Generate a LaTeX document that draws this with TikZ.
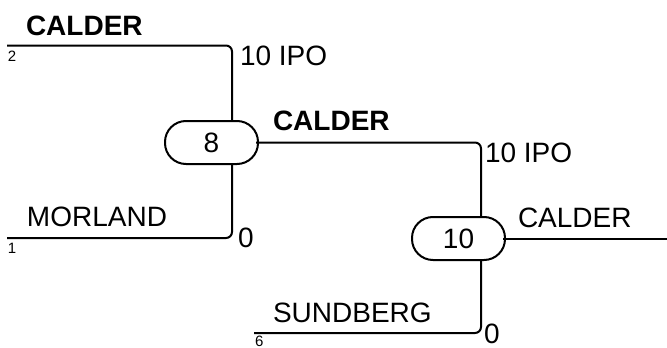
\documentclass[tikz,border=0pt]{standalone}
\usepackage{fontspec}
\setmainfont{Liberation Sans}
\begin{document}
\begin{tikzpicture}[x=1pt,y=-1pt,
  line width=2pt,
  pill/.style={draw, rounded corners=21pt, minimum width=93pt, minimum height=43pt, inner sep=0pt, font=\fontsize{28}{30}\selectfont},
  lbl/.style={anchor=base west, inner sep=0pt, font=\fontsize{28}{30}\selectfont},
  blbl/.style={anchor=base west, inner sep=0pt, font=\fontsize{28}{30}\selectfont\bfseries},
  idx/.style={anchor=base west, inner sep=0pt, font=\fontsize{15}{17}\selectfont},
  link/.style={rounded corners=6pt}]
\useasboundingbox (0,0) rectangle (667,348);
\node[pill] (n8) at (211.5,142.5) {8};
\node[pill] (n10) at (458.5,238.5) {10};
\coordinate (a2) at (7,45.5);
\coordinate (a1) at (7,238);
\coordinate (a6) at (254,333);
\coordinate (out) at (667,238.5);
\draw[link] (a2) -| ([xshift=20.5pt]n8.north);
\draw[link] (a1) -| ([xshift=20.5pt]n8.south);
\draw[link] ([xshift=-3pt]n8.east) -| ([xshift=22.5pt]n10.north);
\draw[link] (a6) -| ([xshift=22.5pt]n10.south);
\draw ([xshift=-3pt]n10.east) -- (out);
\node[blbl] (t1) at (25,35) {CALDER};
\node[idx] (i2) at (7,61) {2};
\node[lbl] (t2) at (239,65) {10 IPO};
\node[lbl] (t3) at (26,226) {MORLAND};
\node[idx] (i1) at (7,253) {1};
\node[lbl] (t4) at (237,247) {0};
\node[blbl] (t5) at (272,130) {CALDER};
\node[lbl] (t6) at (484,162) {10 IPO};
\node[lbl] (t7) at (517,227) {CALDER};
\node[lbl] (t8) at (272,322) {SUNDBERG};
\node[idx] (i6) at (254,346.5) {6};
\node[lbl] (t9) at (483,343) {0};
\end{tikzpicture}
\end{document}
